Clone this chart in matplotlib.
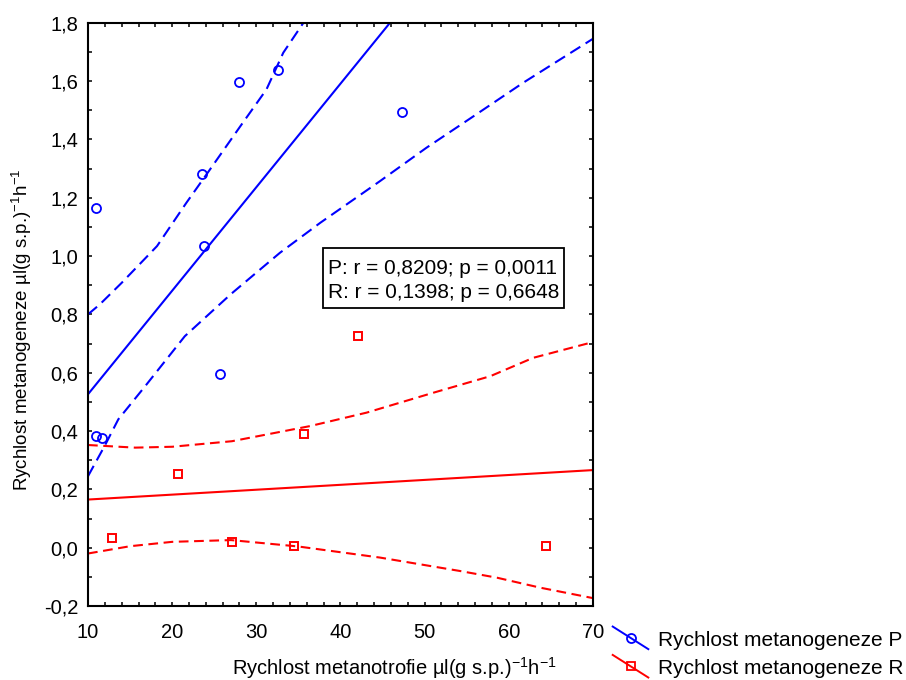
import numpy as np
import matplotlib.pyplot as plt
from matplotlib.lines import Line2D
from matplotlib.patches import Rectangle
from matplotlib.legend_handler import HandlerLine2D
from matplotlib.ticker import MultipleLocator, FuncFormatter

plt.rcParams['font.family'] = ['Liberation Sans', 'DejaVu Sans']
plt.rcParams['mathtext.fontset'] = 'custom'
plt.rcParams['mathtext.rm'] = 'Liberation Sans'
plt.rcParams['lines.scale_dashes'] = False

# Rychlost metanogeneze P (kolecka)
p_x = [11.0, 23.5, 27.9, 32.6, 47.3, 23.8, 25.7, 11.0, 11.7]
p_y = [1.163, 1.280, 1.596, 1.637, 1.493, 1.034, 0.594, 0.383, 0.375]

# Rychlost metanogeneze R (ctverce)
r_x = [12.9, 20.7, 27.15, 34.5, 35.7, 42.1, 64.45]
r_y = [0.034, 0.251, 0.019, 0.005, 0.391, 0.725, 0.006]

# regresni primky
fit_x = [10, 70]
p_fit = [0.526, 2.656]
r_fit = [0.165, 0.266]

# 95% pas spolehlivosti
p_hi_x = [10.0, 11.4, 14.0, 18.2, 21.7, 24.5, 28.1, 31.2, 33.2, 35.6]
p_hi_y = [0.800, 0.834, 0.908, 1.034, 1.183, 1.297, 1.445, 1.571, 1.697, 1.800]
p_lo_x = [10.0, 12.0, 13.6, 16.8, 21.5, 27.0, 32.8, 37.6, 44.7, 50.2, 56.1, 61.7, 70.0]
p_lo_y = [0.245, 0.350, 0.440, 0.554, 0.725, 0.870, 1.011, 1.114, 1.257, 1.371, 1.485, 1.594, 1.745]
r_hi_x = [10.0, 15.6, 20.0, 27.1, 36.4, 43.1, 51.0, 57.8, 62.9, 70.0]
r_hi_y = [0.352, 0.343, 0.346, 0.365, 0.417, 0.463, 0.531, 0.588, 0.651, 0.705]
r_lo_x = [10.0, 15.0, 20.0, 27.0, 35.0, 44.7, 54.2, 58.6, 63.7, 70.0]
r_lo_y = [-0.020, 0.005, 0.020, 0.026, 0.004, -0.034, -0.080, -0.103, -0.137, -0.173]

stats_text = "P: r = 0,8209; p = 0,0011\nR: r = 0,1398; p = 0,6648"
labels = ["Rychlost metanogeneze P", "Rychlost metanogeneze R"]

blue = '#0000ff'
red = '#ff0000'

fig = plt.figure(figsize=(9.06, 6.8), dpi=100)
ax = fig.add_axes([88 / 906, 1 - 606 / 680, 505 / 906, 583.3 / 680])

ax.plot(fit_x, p_fit, color=blue, lw=1.5)
ax.plot(p_hi_x, p_hi_y, color=blue, lw=1.5, dashes=(8.5, 4.5))
ax.plot(p_lo_x, p_lo_y, color=blue, lw=1.5, dashes=(8.5, 4.5))
ax.plot(p_x, p_y, 'o', ms=6.5, mfc='none', mec=blue, mew=1.3)

ax.plot(fit_x, r_fit, color=red, lw=1.5)
ax.plot(r_hi_x, r_hi_y, color=red, lw=1.5, dashes=(7, 4))
ax.plot(r_lo_x, r_lo_y, color=red, lw=1.5, dashes=(7, 4))
ax.plot(r_x, r_y, 's', ms=6.3, mfc='none', mec=red, mew=1.4)

ax.set_xlim(10, 70)
ax.set_ylim(-0.2, 1.8)
ax.xaxis.set_major_locator(MultipleLocator(10))
ax.xaxis.set_minor_locator(MultipleLocator(2))
ax.yaxis.set_major_locator(MultipleLocator(0.2))
ax.yaxis.set_minor_locator(MultipleLocator(0.1))
ax.yaxis.set_major_formatter(FuncFormatter(lambda v, pos: f"{v:.1f}".replace('.', ',').replace('-0,0', '0,0')))
ax.tick_params(which='both', direction='in', top=True, right=True, length=2.6, width=1.1)
ax.tick_params(axis='x', labelsize=14.5, pad=12)
ax.tick_params(axis='y', labelsize=14.5, pad=7)
for s in ax.spines.values():
    s.set_linewidth(1.5)

ax.set_xlabel("Rychlost metanotrofie µl(g s.p.)$^{\\mathregular{-1}}$h$^{\\mathregular{-1}}$", fontsize=14.5)
ax.xaxis.set_label_coords(0.606, -0.106)
ax.xaxis.label.set_va('center')
ax.set_ylabel("Rychlost metanogeneze µl(g s.p.)$^{\\mathregular{-1}}$h$^{\\mathregular{-1}}$", fontsize=13.5)
ax.yaxis.set_label_coords(-0.131, 0.473)
ax.yaxis.label.set_va('center')

# ramecek s korelacemi
ax.add_patch(Rectangle((0.466, 0.5104), 0.4766, 0.1028, transform=ax.transAxes,
                       fc='white', ec='black', lw=1.3, zorder=4))
ax.text(0.4758, 0.5583, stats_text, transform=ax.transAxes, ha='left', va='center',
        fontsize=15, linespacing=1.36, zorder=5)


class SlantedHandler(HandlerLine2D):
    # sikma cara s markerem uprostred
    def create_artists(self, legend, orig_handle, xdescent, ydescent, width, height, fontsize, trans):
        cy = -ydescent + height / 2
        x0, x1 = -xdescent, -xdescent + width
        y0, y1 = cy + 0.8 * height, cy - 0.75 * height
        line = Line2D([x0, x1], [y0, y1], color=orig_handle.get_color(), lw=1.4)
        mark = Line2D([(x0 + x1) / 2], [(y0 + y1) / 2], linestyle='none',
                      marker=orig_handle.get_marker(), ms=orig_handle.get_markersize(),
                      mfc='none', mec=orig_handle.get_color(), mew=1.3)
        line.set_transform(trans)
        mark.set_transform(trans)
        return [line, mark]


handles = [Line2D([], [], color=blue, marker='o', ms=6.5),
           Line2D([], [], color=red, marker='s', ms=6.3)]
fig.legend(handles, labels, loc='upper left', bbox_to_anchor=(612.7 / 906, 1 - 630.5 / 680),
           frameon=False, fontsize=15, borderpad=0, borderaxespad=0,
           handlelength=1.71, handletextpad=0.47, labelspacing=0.45,
           handler_map={Line2D: SlantedHandler()})

fig.savefig('out.png', dpi=100)
